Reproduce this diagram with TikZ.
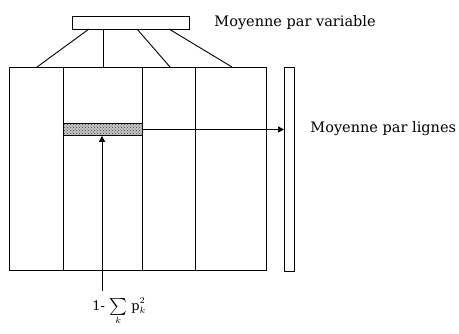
\documentclass[tikz,border=0pt]{standalone}
\usepackage{amsmath}
\usepackage{fontspec}
\setmainfont{DejaVu Serif}
\usetikzlibrary{patterns,arrows.meta}
\begin{document}
\begin{tikzpicture}[x=1pt,y=-1pt,line width=0.9pt,
  box/.style={draw,inner sep=0pt,anchor=north west},
  lbl/.style={anchor=west,inner sep=0pt},
  arr/.style={-{Triangle[length=6pt,width=6pt]}}]
\useasboundingbox (0,0) rectangle (459,333);
% top bar
\node[box,minimum width=117pt,minimum height=13pt] (top) at (72,16) {};
\node[lbl] (lv) at (214,23) {\fontsize{14.5}{17}\selectfont Moyenne par variable};
% main table
\node[box,minimum width=257pt,minimum height=203pt] (main) at (9,67) {};
\coordinate (c1t) at (63,67);  \coordinate (c1b) at (63,270);
\coordinate (c2t) at (142,67); \coordinate (c2b) at (142,270);
\coordinate (c3t) at (195,67); \coordinate (c3b) at (195,270);
\draw (c1t) -- (c1b);
\draw (c2t) -- (c2b);
\draw (c3t) -- (c3b);
% connectors from top bar
\coordinate (t1) at (89,29);  \coordinate (m1) at (37,67);
\coordinate (t2) at (103,29); \coordinate (m2) at (103,67);
\coordinate (t3) at (137,29); \coordinate (m3) at (170,67);
\coordinate (t4) at (169,29); \coordinate (m4) at (232,67);
\draw (t1) -- (m1);
\draw (t2) -- (m2);
\draw (t3) -- (m3);
\draw (t4) -- (m4);
% right bar
\node[box,minimum width=10pt,minimum height=204pt] (rbar) at (284,67) {};
% shaded row
\node[box,minimum width=79pt,minimum height=12pt,fill=gray!45,postaction={pattern=crosshatch dots,pattern color=black!75}] (row) at (63,123) {};
\draw[arr] (row.east) -- (rbar.west |- row.east);
\node[lbl] (ll) at (310,129) {\fontsize{14.5}{17}\selectfont Moyenne par lignes};
% bottom arrow
\coordinate (bot) at (102,291);
\draw[arr] (bot) -- (bot |- row.south);
\node[anchor=north west,inner sep=0pt] (f) at (92,297) {\scalebox{1.3}{1-\ $\mathop{\vcenter{\hbox{\scalebox{1.3}{$\sum$}}}}\limits_{k}\,\mathrm{p}_{k}^{2}$}};
\end{tikzpicture}
\end{document}
